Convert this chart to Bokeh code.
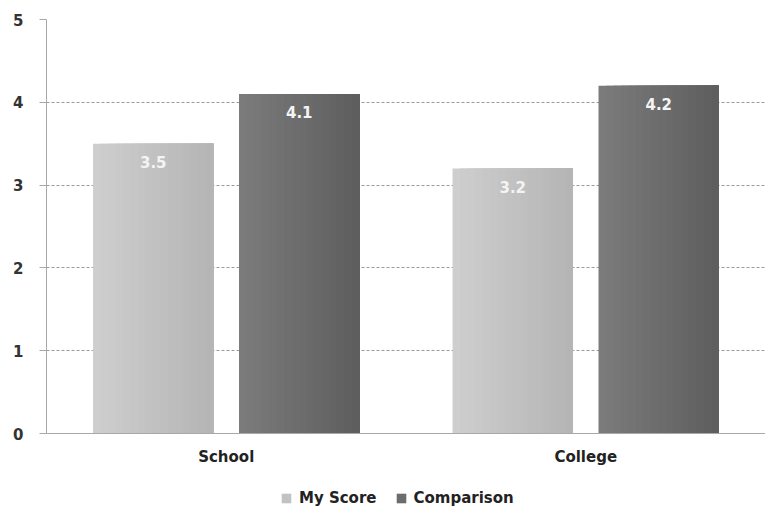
from bokeh.plotting import figure
from bokeh.layouts import column
from bokeh.models import ColumnDataSource, FactorRange, Range1d, Legend, LegendItem, FixedTicker
from bokeh.transform import dodge
from bokeh.core.properties import value
from bokeh.embed import file_html
from bokeh.resources import INLINE

categories = ["School", "College"]
series_names = ["My Score", "Comparison"]
my_score = [3.5, 3.2]
comparison = [4.1, 4.2]
y_ticks = [0, 1, 2, 3, 4, 5]

# styling
offsets = [-0.203, 0.203]
bar_w = 0.335
grad = [("#cecece", "#b5b5b5"), ("#7b7b7b", "#5e5e5e")]
N = 16

def lerp(c1, c2, t):
    a = [int(c1[i:i+2], 16) for i in (1, 3, 5)]
    b = [int(c2[i:i+2], 16) for i in (1, 3, 5)]
    return "#%02x%02x%02x" % tuple(int(round(a[k] + (b[k] - a[k]) * t)) for k in range(3))

p = figure(x_range=FactorRange(*categories), y_range=Range1d(0, 5),
           width=765, height=476, output_backend="svg", toolbar_location=None,
           min_border_left=46, min_border_top=19, min_border_right=0, min_border_bottom=43)
p.outline_line_color = None
p.background_fill_color = "white"

src = ColumnDataSource(dict(cat=categories, my=my_score, cmp=comparison,
                            my_lbl=[f"{v:.1f}" for v in my_score],
                            cmp_lbl=[f"{v:.1f}" for v in comparison]))

for s, (col, lbl) in enumerate([("my", "my_lbl"), ("cmp", "cmp_lbl")]):
    sw = bar_w / N
    left = offsets[s] - bar_w / 2
    right = offsets[s] + bar_w / 2
    for i in range(N):
        l = left + i * sw
        p.vbar(x=dodge("cat", (l + right) / 2, range=p.x_range), top=col, width=right - l,
               source=src, fill_color=lerp(grad[s][0], grad[s][1], i / (N - 1)),
               line_color=None)
    p.text(x=dodge("cat", offsets[s], range=p.x_range), y=col, text=lbl, source=src,
           text_align="center", text_baseline="top", y_offset=12,
           text_color="#f4f4f4", text_font_size="15px", text_font_style="bold",
           text_font=value("DejaVu Sans"))

p.ygrid.grid_line_color = "#9a9a9a"
p.ygrid.grid_line_dash = "3 2"
p.ygrid.grid_line_width = 1
p.xgrid.grid_line_color = None

p.yaxis.ticker = FixedTicker(ticks=y_ticks)
p.yaxis.axis_line_color = "#a8a8a8"
p.yaxis.major_tick_line_color = "#a8a8a8"
p.yaxis.major_tick_out = 7
p.yaxis.major_tick_in = 0
p.yaxis.minor_tick_line_color = None
p.yaxis.major_label_standoff = 16
p.yaxis.major_label_text_font = "DejaVu Sans"
p.yaxis.major_label_text_font_style = "bold"
p.yaxis.major_label_text_font_size = "15px"
p.yaxis.major_label_text_color = "#333333"

p.xaxis.axis_line_color = "#a8a8a8"
p.xaxis.major_tick_line_color = None
p.xaxis.minor_tick_line_color = None
p.xaxis.major_label_standoff = 8
p.xaxis.major_label_text_font = "DejaVu Sans"
p.xaxis.major_label_text_font_style = "bold"
p.xaxis.major_label_text_font_size = "15px"
p.xaxis.major_label_text_color = "#222222"

# legend strip below the chart
q = figure(width=765, height=39, output_backend="svg", toolbar_location=None,
           x_range=Range1d(0, 1), y_range=Range1d(0, 1),
           x_axis_location=None, y_axis_location=None, min_border=0)
q.outline_line_color = None
q.xgrid.grid_line_color = None
q.ygrid.grid_line_color = None
leg_r = [q.vbar(x=[5], top=[0], width=0.1, fill_color=lerp(grad[s][0], grad[s][1], 0.5),
                line_color=None) for s in range(2)]
legend = Legend(items=[LegendItem(label=series_names[i], renderers=[leg_r[i]]) for i in range(2)],
                orientation="horizontal", location=(234, 8),
                label_text_font="DejaVu Sans", label_text_font_style="bold",
                label_text_font_size="15px", label_text_color="#222222",
                glyph_width=12, glyph_height=12, spacing=18, label_standoff=7,
                padding=5, margin=0, border_line_color=None, background_fill_alpha=0)
q.add_layout(legend, "center")

open("out.html", "w").write(file_html(column(p, q, spacing=0), INLINE))
